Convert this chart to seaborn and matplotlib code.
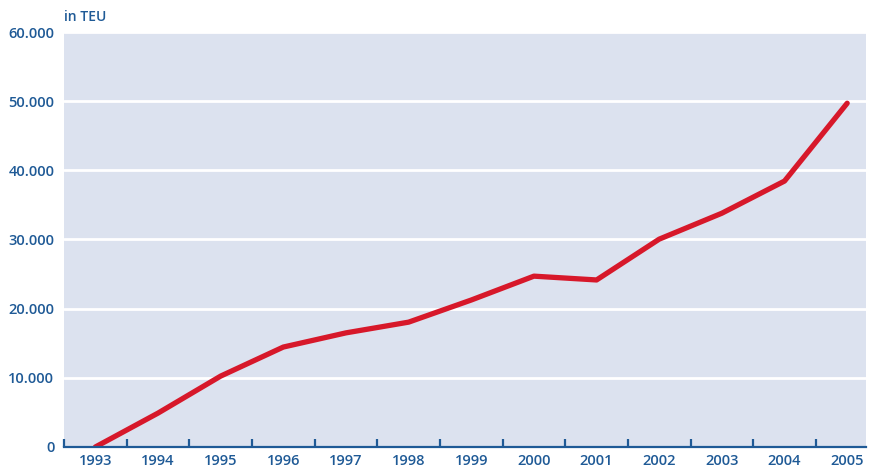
import matplotlib
matplotlib.use("Agg")
import matplotlib.pyplot as plt
from matplotlib.ticker import FixedLocator, FuncFormatter
import seaborn as sns
import numpy as np

# Daten: Containerumschlag in TEU
years = ["1993", "1994", "1995", "1996", "1997", "1998", "1999",
         "2000", "2001", "2002", "2003", "2004", "2005"]
teu = [0, 4900, 10250, 14450, 16500, 18050, 21250,
       24700, 24150, 30050, 33800, 38450, 49700]
y_ticks = [0, 10000, 20000, 30000, 40000, 50000, 60000]

BLUE = "#1f5a96"
RED = "#d7182a"
BG = "#dce2ef"

sns.set_style("white")
plt.rcParams["font.family"] = ["Open Sans", "DejaVu Sans"]

fig = plt.figure(figsize=(8.69, 4.68), dpi=100)
ax = fig.add_axes([0.0737, 0.0449, 0.9228, 0.8867])
ax.set_facecolor(BG)

sns.lineplot(x=years, y=teu, ax=ax, color=RED, linewidth=3.8, sort=False)

ax.set_ylim(0, 60000)
ax.set_xlim(-0.5, 12.3)
ax.yaxis.set_major_locator(FixedLocator(y_ticks))
ax.yaxis.set_major_formatter(FuncFormatter(lambda v, p: f"{int(v):,}".replace(",", ".")))
ax.grid(axis="y", color="white", linewidth=2)
ax.set_axisbelow(True)

for s in ["top", "right", "left"]:
    ax.spines[s].set_visible(False)
ax.spines["bottom"].set_color(BLUE)
ax.spines["bottom"].set_linewidth(1.6)
ax.spines["bottom"].set_zorder(5)

ax.set_xticks(range(len(years)))
ax.set_xticklabels(years)
ax.set_xticks(np.arange(-0.5, len(years) - 1, 1.0), minor=True)
ax.tick_params(axis="x", which="major", bottom=True, length=0, pad=5,
               labelsize=10.5, labelcolor=BLUE)
ax.tick_params(axis="x", which="minor", bottom=True, length=6, width=1.6,
               direction="in", color=BLUE)
ax.tick_params(axis="y", left=False, length=0, pad=7, labelsize=10.5,
               labelcolor=BLUE)
for lbl in ax.get_xticklabels() + ax.get_yticklabels():
    lbl.set_fontweight("semibold")

ax.set_xlabel("")
ax.set_ylabel("")
fig.text(0.0737, 0.963, "in TEU", color=BLUE, fontsize=10,
         fontweight="semibold", ha="left", va="center")

fig.savefig("out.png", dpi=100)
